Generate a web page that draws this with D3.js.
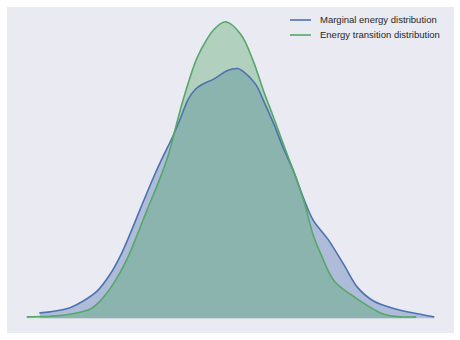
<!DOCTYPE html>
<html>
<head>
<meta charset="utf-8">
<script src="https://cdn.jsdelivr.net/npm/d3@7"></script>
<style>
  html, body { margin: 0; padding: 0; background: #ffffff; }
  svg { display: block; }
  text { font-family: "Liberation Sans", Arial, sans-serif; }
</style>
</head>
<body>
<svg id="chart" width="460" height="340"></svg>
<script>
// Energy grid points and estimated densities for each distribution
const marginalX = [-3.17, -3.00, -2.67, -2.45, -2.22, -2.00, -1.83, -1.67, -1.50, -1.28, -1.12, -0.97, -0.83, -0.70, -0.58, -0.47, -0.28, -0.05, 0.12, 0.22, 0.42, 0.55, 0.72, 0.88, 1.05, 1.22, 1.38, 1.62, 1.88, 2.12, 2.38, 2.67, 3.00, 3.38];
const marginalY = [0.008, 0.0096, 0.016, 0.026, 0.041, 0.067, 0.095, 0.128, 0.166, 0.214, 0.246, 0.274, 0.304, 0.333, 0.348, 0.355, 0.363, 0.376, 0.379, 0.374, 0.355, 0.330, 0.295, 0.258, 0.223, 0.181, 0.148, 0.120, 0.082, 0.046, 0.026, 0.016, 0.0085, 0.002];

const transitionX = [-3.38, -3.17, -3.00, -2.67, -2.33, -2.17, -1.95, -1.72, -1.55, -1.38, -1.17, -1.03, -0.92, -0.78, -0.58, -0.50, -0.28, -0.08, 0.17, 0.38, 0.55, 0.72, 0.88, 1.05, 1.22, 1.38, 1.50, 1.72, 2.00, 2.28, 2.55, 2.83, 3.08];
const transitionY = [0.002, 0.0025, 0.003, 0.006, 0.014, 0.026, 0.052, 0.090, 0.127, 0.166, 0.213, 0.249, 0.287, 0.334, 0.390, 0.406, 0.438, 0.450, 0.431, 0.390, 0.345, 0.304, 0.264, 0.223, 0.178, 0.125, 0.098, 0.057, 0.036, 0.019, 0.006, 0.002, 0.002];

const seriesNames = ["Marginal energy distribution", "Energy transition distribution"];
const seriesColors = ["#4C72B0", "#55A868"];

const series = [
  { name: seriesNames[0], color: seriesColors[0], pts: marginalX.map((x, i) => [x, marginalY[i]]) },
  { name: seriesNames[1], color: seriesColors[1], pts: transitionX.map((x, i) => [x, transitionY[i]]) }
];

const svg = d3.select("#chart");
const W = 460, H = 340;
const plot = { left: 7, top: 7, right: 454, bottom: 333 };

svg.append("rect").attr("width", W).attr("height", H).attr("fill", "#ffffff");
svg.append("rect")
  .attr("x", plot.left).attr("y", plot.top)
  .attr("width", plot.right - plot.left).attr("height", plot.bottom - plot.top)
  .attr("fill", "#EAEAF2");

// Axis limits with 5% padding around the data
const allX = marginalX.concat(transitionX);
const allY = marginalY.concat(transitionY);
const xMin = d3.min(allX), xMax = d3.max(allX);
const yMax = d3.max(allY);
const xPad = (xMax - xMin) * 0.05, yPad = yMax * 0.05;

const x = d3.scaleLinear().domain([xMin - xPad, xMax + xPad]).range([plot.left, plot.right]);
const y = d3.scaleLinear().domain([-yPad, yMax + yPad]).range([plot.bottom, plot.top]);

const area = d3.area()
  .x(d => x(d[0])).y0(y(0)).y1(d => y(d[1]))
  .curve(d3.curveCatmullRom.alpha(0.5));
const line = d3.line()
  .x(d => x(d[0])).y(d => y(d[1]))
  .curve(d3.curveCatmullRom.alpha(0.5));

const g = svg.append("g");
series.forEach(s => {
  g.append("path").attr("d", area(s.pts))
    .attr("fill", s.color).attr("fill-opacity", 0.38).attr("stroke", "none");
});
series.forEach(s => {
  g.append("path").attr("d", line(s.pts))
    .attr("fill", "none").attr("stroke", s.color)
    .attr("stroke-width", 1.6).attr("stroke-linejoin", "round").attr("stroke-linecap", "round");
});

// Legend
const legend = svg.append("g").attr("transform", "translate(290,20)");
series.forEach((s, i) => {
  const row = legend.append("g").attr("transform", `translate(0,${i * 15})`);
  row.append("line").attr("x1", 0).attr("x2", 21).attr("y1", 0).attr("y2", 0)
    .attr("stroke", s.color).attr("stroke-width", 1.6);
  row.append("text").attr("x", 30).attr("y", 0).attr("dy", "0.35em")
    .attr("font-size", 9.5).attr("fill", "#262626").text(s.name);
});
</script>
</body>
</html>
